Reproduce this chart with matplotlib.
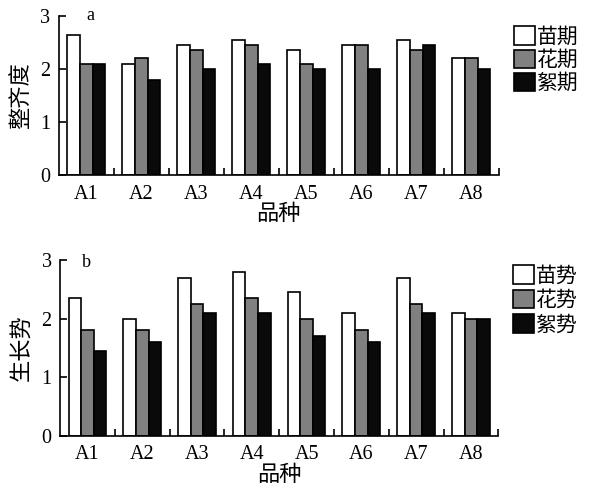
import numpy as np
import matplotlib
matplotlib.use('Agg')
import matplotlib.pyplot as plt
from matplotlib.ticker import FixedLocator

plt.rcParams['font.family'] = ['Liberation Serif', 'Noto Sans CJK SC']

varieties = ['A1', 'A2', 'A3', 'A4', 'A5', 'A6', 'A7', 'A8']

# 整齐度
uniform_labels = ['苗期', '花期', '絮期']
uniform_seedling = [2.65, 2.1, 2.45, 2.55, 2.35, 2.45, 2.55, 2.2]
uniform_flower = [2.1, 2.2, 2.35, 2.45, 2.1, 2.45, 2.35, 2.2]
uniform_boll = [2.1, 1.8, 2.0, 2.1, 2.0, 2.0, 2.45, 2.0]

# 生长势
vigor_labels = ['苗势', '花势', '絮势']
vigor_seedling = [2.35, 2.0, 2.7, 2.8, 2.45, 2.1, 2.7, 2.1]
vigor_flower = [1.8, 1.8, 2.25, 2.35, 2.0, 1.8, 2.25, 2.0]
vigor_boll = [1.45, 1.6, 2.1, 2.1, 1.7, 1.6, 2.1, 2.0]

colors = ['white', '#808080', '#0a0a0a']


def draw_panel(ax, series, labels, ylabel, letter, letter_pos, leg_y, leg_sp):
    x = np.arange(len(varieties))
    w = 0.23
    for k, (vals, lab, c) in enumerate(zip(series, labels, colors)):
        ax.bar(x + (k - 1) * w, vals, w, color=c, edgecolor='black',
               linewidth=1.2, label=lab)
    ax.set_xlim(-0.5, len(varieties) - 0.5)
    ax.set_ylim(0, 3)
    ax.set_yticks([0, 1, 2, 3])
    ax.set_xticks(x)
    ax.set_xticklabels(varieties)
    ax.xaxis.set_minor_locator(FixedLocator(np.arange(0.5, len(varieties), 1)))
    ax.tick_params(axis='x', which='major', length=0, pad=7, labelsize=14.5)
    ax.tick_params(axis='x', which='minor', direction='in', length=5, width=1.2)
    ax.tick_params(axis='y', direction='in', length=5, width=1.2, labelsize=14.5, pad=6)
    for s in ['top', 'right']:
        ax.spines[s].set_visible(False)
    for s in ['left', 'bottom']:
        ax.spines[s].set_linewidth(1.2)
    ax.set_xlabel('品种', fontsize=16, labelpad=1)
    ax.set_ylabel(ylabel, fontsize=16, labelpad=6)
    ax.text(letter_pos[0], letter_pos[1], letter, transform=ax.transAxes,
            fontsize=13, ha='center', va='center')
    ax.legend(loc='upper left', bbox_to_anchor=(1.01, leg_y), frameon=False,
              fontsize=15, handlelength=1.0, handleheight=1.0,
              handletextpad=0.1, labelspacing=leg_sp, borderpad=0)


fig = plt.figure(figsize=(5.89, 5.0), dpi=100)
ax1 = fig.add_axes([0.0997, 0.65, 0.7475, 0.318])
ax2 = fig.add_axes([0.102, 0.1286, 0.744, 0.3514])

draw_panel(ax1, [uniform_seedling, uniform_flower, uniform_boll],
           uniform_labels, '整齐度', 'a', (0.073, 1.0), 1.0, 0.08)
draw_panel(ax2, [vigor_seedling, vigor_flower, vigor_boll],
           vigor_labels, '生长势', 'b', (0.061, 0.985), 1.03, 0.15)

fig.savefig('out.png', dpi=100)
